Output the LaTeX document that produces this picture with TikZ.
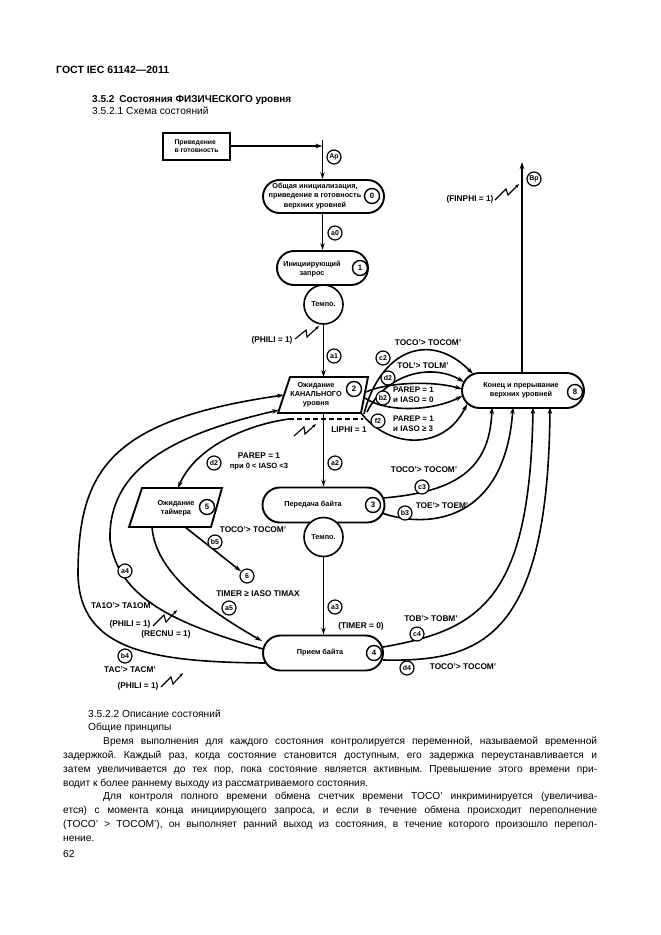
\documentclass[tikz,border=0pt]{standalone}
\usepackage{fontspec}
\setmainfont{Liberation Sans}
\usetikzlibrary{arrows.meta,shapes.misc}
\frenchspacing
\begin{document}
\begin{tikzpicture}[x=1pt,y=-1pt,
  st/.style={draw, rounded rectangle, line width=1.9pt, inner sep=0pt},
  stxt/.style={align=center, inner sep=0pt, font=\bfseries\fontsize{7.3}{9.2}\selectfont},
  num/.style={draw, circle, line width=1.4pt, inner sep=0pt, minimum size=15pt, font=\bfseries\fontsize{7.8}{8}\selectfont},
  lab/.style={draw, circle, line width=1.2pt, inner sep=0pt, minimum size=14pt, fill=white, font=\bfseries\fontsize{7}{8}\selectfont},
  cond/.style={inner sep=0pt, align=center, font=\bfseries\fontsize{8.3}{9.5}\selectfont},
  condl/.style={inner sep=0pt, align=left, font=\bfseries\fontsize{8}{9.5}\selectfont},
  tmp/.style={draw, circle, line width=1.6pt, minimum size=39pt, inner sep=0pt, fill=white, font=\bfseries\fontsize{7.3}{8}\selectfont},
  con/.style={line width=1.6pt},
  arr/.style={con, -{Stealth[length=7pt,width=4.5pt]}},
  zz/.style={line width=1.1pt, -{Stealth[length=4pt,width=3pt]}},
  body/.style={inner sep=0pt, font=\fontsize{10.2}{13.8}\selectfont}
]
\useasboundingbox[fill=white] (0,0) rectangle (661,935);

% ---------- header ----------
\node[anchor=base west, inner sep=0pt, font=\bfseries\fontsize{10.5}{12}\selectfont] (hdr) at (56,73) {ГОСТ IEC 61142—2011};
\node[anchor=base west, inner sep=0pt, font=\bfseries\fontsize{10}{12}\selectfont] (sec) at (92,102.5) {3.5.2\hspace{5pt}Состояния ФИЗИЧЕСКОГО уровня};
\node[anchor=base west, body] (sub) at (92,114) {3.5.2.1 Схема состояний};

% ---------- start ----------
\node[draw, line width=2pt, minimum width=67pt, minimum height=27pt, align=left, inner sep=0pt,
      font=\bfseries\fontsize{6.8}{8}\selectfont] (rdy) at (196.5,146) {Приведение\\в готовность};
\coordinate (apT) at (322.5,140);
\draw[arr] (rdy.east) -- (rdy.east -| apT);
\node[lab] (Ap) at (334,157) {Ap};

% ---------- state 0 ----------
\node[st, minimum width=121pt, minimum height=33pt] (s0) at (323.5,196.5) {};
\node[stxt] (s0t) at (315,196) {Общая инициализация,\\приведение в готовность\\верхних уровней};
\node[num] (n0) at (372,196) {0};
\draw[arr] (apT) -- (apT |- s0.north);

% ---------- state 1 ----------
\node[st, minimum width=91pt, minimum height=34pt] (s1) at (322.5,268) {};
\node[stxt] (s1t) at (312,269) {Инициирующий\\запрос};
\node[num] (n1) at (360,268) {1};
\draw[arr] (s0.south -| apT) -- (apT |- s1.north);
\node[lab] (a0) at (335,233) {a0};
\node[tmp] (t1) at (323.5,304.5) {Темпо.};

% ---------- state 2 ----------
\coordinate (p2a) at (290,377);
\coordinate (p2b) at (368,377);
\coordinate (p2c) at (361,413);
\coordinate (p2d) at (278,413);
\draw[line width=1.9pt] (p2a) -- (p2b) -- (p2c) -- (p2d) -- cycle;
\node[stxt] (s2t) at (316,395) {Ожидание\\КАНАЛЬНОГО\\уровня};
\node[num] (n2) at (354,389) {2};
\coordinate (s2top) at (323.5,377);
\coordinate (s2bot) at (323.5,413);
\draw[arr] (t1.south) -- (s2top);
\node[lab] (a1) at (334,356) {a1};
\node[cond] (phili1) at (272,340) {(PHILI = 1)};
\draw[zz] (295,339) -- (306,330) -- (307,337) -- (319,326);

\coordinate (dL) at (289,419);
\coordinate (dR) at (363,419);
\draw[line width=2pt, dash pattern=on 5pt off 3pt] (dL) -- (dR);
\draw[zz] (294,436) -- (304,427) -- (305,434) -- (316,424);
\node[cond] (liphi) at (349,430) {LIPHI = 1};

% ---------- state 3 ----------
\node[st, minimum width=122pt, minimum height=35pt] (s3) at (323.5,505) {};
\node[stxt] (s3t) at (313,505) {Передача байта};
\node[num] (n3) at (373,505) {3};
\draw[arr] (s2bot) -- (s3.north);
\node[lab] (a2) at (335,463) {a2};
\node[tmp] (t3) at (323.5,537) {Темпо.};

% ---------- state 4 ----------
\node[st, minimum width=120pt, minimum height=35pt] (s4) at (323,653) {};
\node[stxt] (s4t) at (320,653) {Прием байта};
\node[num] (n4) at (374,653) {4};
\draw[arr] (t3.south) -- (t3.south |- s4.north);
\node[lab] (a3) at (335,607) {a3};
\node[cond] (timer0) at (361,626) {(TIMER = 0)};

% ---------- state 8 ----------
\node[st, minimum width=122pt, minimum height=35pt] (s8) at (523,390.5) {};
\node[stxt] (s8t) at (521,390) {Конец и прерывание\\верхних уровней};
\node[num] (n8) at (575,392) {8};
\coordinate (bpTop) at (522,162);
\draw[arr] (s8.north -| bpTop) -- (bpTop);
\node[lab] (Bp) at (534,179) {Bp};
\node[cond] (finphi) at (470,199) {(FINPHI = 1)};
\draw[zz] (495,200) -- (506,189) -- (508,195) -- (519,184);

% ---------- state 5 ----------
\coordinate (p5a) at (142,488);
\coordinate (p5b) at (222,488);
\coordinate (p5c) at (211,527);
\coordinate (p5d) at (129,527);
\draw[line width=1.9pt] (p5a) -- (p5b) -- (p5c) -- (p5d) -- cycle;
\node[stxt] (s5t) at (176,508) {Ожидание\\таймера};
\node[num] (n5) at (207,507) {5};
\coordinate (s5top) at (178,488);
\coordinate (s5b5) at (185,527);
\coordinate (s5a5) at (152,527);
\node[draw, circle, line width=1.2pt, inner sep=0pt, minimum size=14pt, font=\bfseries\fontsize{7}{8}\selectfont] (n6) at (247,576) {6};

% d2 : state 2 -> state 5
\draw[arr] (dL) .. controls (245,425) and (195,448) .. (s5top);
\node[lab] (d2l) at (214,463) {d2};
\node[cond] (d2c) at (259,461.5) {PAREP = 1\\{\fontsize{7.6}{9}\selectfont при 0 < IASO <3}};

% b5 : state 5 -> 6
\draw[arr] (s5b5) -- (n6);
\node[lab] (b5l) at (215,542) {b5};
\node[cond] (b5c) at (253,530) {TOCO'> TOCOM'};
\node[cond] (timax) at (258,594) {TIMER ≥ IASO TIMAX};

% a5 : state 5 -> state 4
\coordinate (s4a5) at (262,641);
\draw[arr] (s5a5) .. controls (155,565) and (190,600) .. (s4a5);
\node[lab] (a5l) at (229,608) {a5};

% a4 : state 4 -> state 2
\coordinate (s4a4) at (263,649);
\coordinate (a4m) at (110,540);
\coordinate (s2a4) at (279,410);
\draw[arr] (s4a4) .. controls (180,625) and (118,600) .. (a4m) .. controls (108,470) and (170,435) .. (s2a4);
\node[lab] (a4l) at (125,571) {a4};
\node[cond] (a4c1) at (122,606) {TA1O'> TA1OM'};
\node[cond] (a4c2) at (130,624) {(PHILI = 1)};
\draw[zz] (153,626) -- (164,615) -- (166,622) -- (177,610);
\node[cond] (a4c3) at (166,634) {(RECNU = 1)};

% b4 : state 4 -> state 2
\coordinate (s4b4) at (265,663);
\coordinate (b4m) at (78,575);
\coordinate (s2b4) at (284,395);
\draw[arr] (s4b4) .. controls (150,662) and (80,650) .. (b4m) .. controls (78,470) and (110,420) .. (s2b4);
\node[lab] (b4l) at (125,656) {b4};
\node[cond] (b4c1) at (130,670) {TAC'> TACM'};
\node[cond] (b4c2) at (138,686) {(PHILI = 1)};
\draw[zz] (161,687) -- (171,677) -- (173,684) -- (183,673);

% ---------- state 2 -> state 8 ----------
\coordinate (e8a) at (473,374);
\coordinate (e8b) at (464,382);
\coordinate (e8c) at (462,389);
\coordinate (e8d) at (462.5,396);
\coordinate (e8e) at (467,404);
\coordinate (s2c2) at (364,414);
\coordinate (s2d2) at (367,412);
\coordinate (s2b2) at (366,392);
\coordinate (s2e2) at (365,398);
\draw[arr] (s2c2) .. controls (380,350) and (430,330) .. (e8a);
\draw[arr] (s2d2) .. controls (385,375) and (430,362) .. (e8b);
\draw[arr] (s2b2) .. controls (385,383) and (430,380) .. (e8c);
\draw[arr] (s2e2) .. controls (385,412) and (430,412) .. (e8d);
\draw[arr] (p2c) .. controls (390,450) and (445,450) .. (e8e);
\node[lab] (c2l) at (383,358) {c2};
\node[cond] (c2c) at (428,343) {TOCO'> TOCOM'};
\node[lab] (d2bl) at (388,378) {d2};
\node[cond] (d2bc) at (423,366) {TOL'> TOLM'};
\node[lab] (b2l) at (383,398) {b2};
\node[condl, anchor=west] (b2c) at (393,395) {PAREP = 1\\и IASO = 0};
\node[lab] (f2l) at (378,421) {f2};
\node[condl, anchor=west] (f2c) at (393,424) {PAREP = 1\\и IASO ≥ 3};

% ---------- states 3,4 -> state 8 ----------
\coordinate (s3c3) at (383,498);
\coordinate (s3b3) at (382,513);
\coordinate (s4c4) at (383,647);
\coordinate (s4d4) at (383,660);
\coordinate (e8f) at (492,407);
\coordinate (e8g) at (513,407);
\coordinate (e8h) at (533,407);
\coordinate (e8i) at (550,407);
\draw[arr] (s3c3) .. controls (455,492) and (490,470) .. (e8f);
\draw[arr] (s3b3) .. controls (430,530) and (505,520) .. (e8g);
\draw[arr] (s4c4) .. controls (480,630) and (530,600) .. (e8h);
\draw[arr] (s4d4) .. controls (480,662) and (548,640) .. (e8i);
\node[lab] (c3l) at (422,487) {c3};
\node[cond] (c3c) at (424,470) {TOCO'> TOCOM'};
\node[lab] (b3l) at (405,513) {b3};
\node[cond] (b3c) at (442,506) {TOE'> TOEM'};
\node[lab] (c4l) at (417,634) {c4};
\node[cond] (c4c) at (431,619) {TOB'> TOBM'};
\node[lab] (d4l) at (407,668) {d4};
\node[cond] (d4c) at (463,667) {TOCO'> TOCOM'};

% ---------- text ----------
\node[anchor=base west, body] (h3) at (88,717) {3.5.2.2 Описание состояний};
\node[anchor=base west, body] (h4) at (88,730.8) {Общие принципы};
\node[anchor=north west, body, text width=534pt, align=justify] (para) at (63,734.9) {\parindent=0pt\hyphenpenalty=10000\tolerance=10000\strut\hspace*{40pt}Время выполнения для каждого состояния контролируется переменной, называемой временной\linebreak задержкой. Каждый раз, когда состояние становится доступным, его задержка переустанавливается и\linebreak затем увеличивается до тех пор, пока состояние является активным. Превышение этого времени при-\linebreak водит к более раннему выходу из рассматриваемого состояния.\par\hspace*{40pt}Для контроля полного времени обмена счетчик времени TOCO' инкриминируется (увеличива-\linebreak ется) с момента конца инициирующего запроса, и если в течение обмена происходит переполнение\linebreak (TOCO' > TOCOM'), он выполняет ранний выход из состояния, в течение которого произошло перепол-\linebreak нение.};
\node[anchor=base west, body] (pg) at (63,857) {62};
\end{tikzpicture}
\end{document}
